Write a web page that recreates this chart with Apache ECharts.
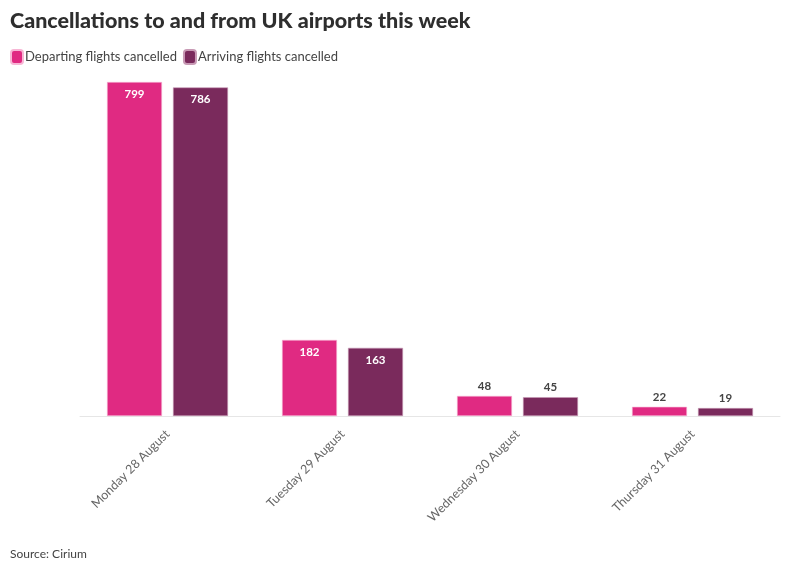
<!DOCTYPE html>
<html>
<head>
<meta charset="utf-8">
<script src="https://cdn.jsdelivr.net/npm/echarts@6/dist/echarts.min.js"></script>
<style>
  html, body { margin: 0; padding: 0; background: #fff; }
  #main { width: 800px; height: 568px; }
</style>
</head>
<body>
<div id="main"></div>
<script>
var days = ['Monday 28 August', 'Tuesday 29 August', 'Wednesday 30 August', 'Thursday 31 August'];
var departing = [799, 182, 48, 22];
var arriving = [786, 163, 45, 19];

var FONT = 'Lato, "Open Sans", sans-serif';

// big bars get the number inside, small ones above
function labelled(values) {
	return values.map(function (v) {
		var inside = v > 100;
		return {
			value: v,
			label: {
				position: inside ? 'insideTop' : 'top',
				color: inside ? '#fff' : '#444',
				distance: inside ? 6 : 4
			}
		};
	});
}

var chart = echarts.init(document.getElementById('main'));
chart.setOption({
	animation: false,
	textStyle: { fontFamily: FONT },
	title: [
		{
			text: 'Cancellations to and from UK airports this week',
			left: 5, top: 5,
			textStyle: { fontSize: 21.5, fontWeight: 900, color: '#2e2e2e', fontFamily: FONT }
		},
		{
			text: 'Source: Cirium',
			left: 5, top: 543,
			textStyle: { fontSize: 12, fontWeight: 'normal', color: '#444', fontFamily: FONT }
		}
	],
	legend: {
		left: 5, top: 44,
		itemWidth: 12, itemHeight: 14, itemGap: 6,
		icon: 'roundRect',
		textStyle: { fontSize: 13, color: '#444', padding: [0, 0, 0, -3] },
		data: ['Departing flights cancelled', 'Arriving flights cancelled']
	},
	grid: { left: 80, right: 20, top: 82, bottom: 152, containLabel: false },
	xAxis: {
		type: 'category',
		data: days,
		axisLine: { lineStyle: { color: '#e6e6e6' } },
		axisTick: { show: false },
		axisLabel: { rotate: 45, color: '#666', fontSize: 12.5, margin: 16, interval: 0 }
	},
	yAxis: {
		type: 'value',
		min: 0, max: 799,
		show: false,
		splitLine: { show: false }
	},
	series: [
		{
			name: 'Departing flights cancelled',
			type: 'bar',
			barWidth: 55,
			barGap: '20%',
			itemStyle: { color: '#e02a82', borderColor: '#f7b6d5', borderWidth: 0.6 },
			label: { show: true, fontSize: 11.5, fontWeight: 'bold' },
			data: labelled(departing)
		},
		{
			name: 'Arriving flights cancelled',
			type: 'bar',
			barWidth: 55,
			itemStyle: { color: '#7a2a5c', borderColor: '#c89ab5', borderWidth: 0.6 },
			label: { show: true, fontSize: 11.5, fontWeight: 'bold' },
			data: labelled(arriving)
		}
	]
});
</script>
</body>
</html>
